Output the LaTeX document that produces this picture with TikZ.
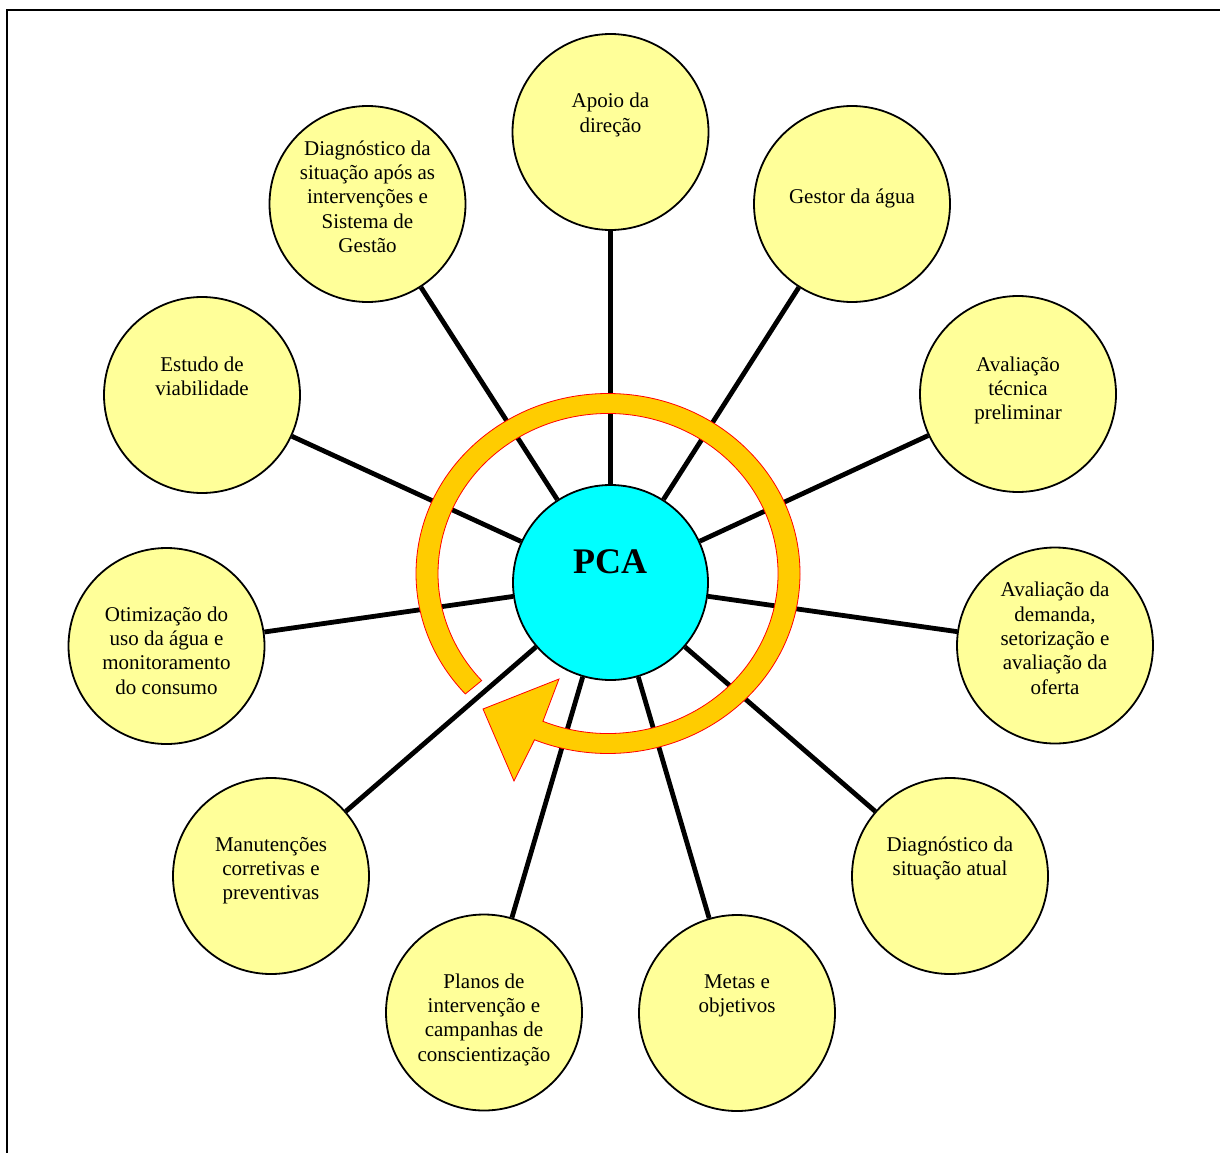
\documentclass[tikz,border=0pt]{standalone}
\usepackage{fontspec}
\setmainfont{Liberation Serif}
\usetikzlibrary{calc}
\definecolor{bubblefill}{HTML}{FFFF99}
\definecolor{hubfill}{HTML}{00FFFF}
\definecolor{ringfill}{HTML}{FFCC00}
\definecolor{ringline}{HTML}{FF0000}
\begin{document}
\begin{tikzpicture}[x=1pt,y=-1pt,
  bubble/.style={circle, draw=black, line width=1.8pt, fill=bubblefill, minimum size=196pt, inner sep=0pt},
  hub/.style={circle, draw=black, line width=1.8pt, fill=hubfill, minimum size=195pt, inner sep=0pt},
  lbl/.style={align=center, anchor=base, font=\fontsize{21}{24.4}\selectfont, inner sep=0pt},
  spoke/.style={line width=4.8pt, draw=black},
  ring/.style={fill=ringfill, draw=ringline, line width=0.8pt, line join=miter}
]
\useasboundingbox (0,0) rectangle (1220,1153);
\draw[line width=2pt] (7,1160) -- (7,10) -- (1225,10);

% circles
\node[hub] (pca) at (610.5,582.5) {};
\node[bubble] (apoio) at (610.5,132) {};
\node[bubble] (gestor) at (852,204) {};
\node[bubble] (tecnica) at (1018,394) {};
\node[bubble] (demanda) at (1055,645.5) {};
\node[bubble] (atual) at (950,876) {};
\node[bubble] (metas) at (737,1013) {};
\node[bubble] (planos) at (484,1012.5) {};
\node[bubble] (manut) at (271,876) {};
\node[bubble] (otim) at (166.5,646) {};
\node[bubble] (estudo) at (202,395) {};
\node[bubble] (diagapos) at (367.5,204) {};

% spokes
\foreach \n in {apoio,gestor,tecnica,demanda,atual,metas,planos,manut,otim,estudo,diagapos}
  \draw[spoke] (pca) -- (\n);

% cycle arrow
\path[ring] ($(608,573.5)+(138:192 and 180)$) coordinate (r0)
  arc[start angle=138, end angle=472.5, x radius=192, y radius=180]
  -- (514,781) coordinate (barbout)
  -- (483,709) coordinate (tip)
  -- (559,679) coordinate (barbin)
  -- ($(608,573.5)+(472.5:170 and 160)$)
  arc[start angle=472.5, end angle=138, x radius=170, y radius=160]
  -- cycle;

% labels (anchor = baseline of last line)
\node[font=\fontsize{36}{40}\selectfont\bfseries, anchor=base, inner sep=0pt] (pcat) at (610,573) {PCA};
\node[lbl] (tapoio) at (610.5,132.4) {Apoio da\\direção};
\node[lbl] (tgestor) at (852,203) {Gestor da água};
\node[lbl] (ttecnica) at (1018,419.8) {Avaliação\\técnica\\preliminar};
\node[lbl] (tdemanda) at (1055,694.2) {Avaliação da\\demanda,\\setorização e\\avaliação da\\oferta};
\node[lbl] (tatual) at (950,875.4) {Diagnóstico da\\situação atual};
\node[lbl] (tmetas) at (737,1012.4) {Metas e\\objetivos};
\node[lbl] (tplanos) at (484,1061.2) {Planos de\\intervenção e\\campanhas de\\conscientização};
\node[lbl] (tmanut) at (271,899.8) {Manutenções\\corretivas e\\preventivas};
\node[lbl] (totim) at (166.5,694.2) {Otimização do\\uso da água e\\monitoramento\\do consumo};
\node[lbl] (testudo) at (202,395.4) {Estudo de\\viabilidade};
\node[lbl] (tdiagapos) at (367.5,252.6) {Diagnóstico da\\situação após as\\intervenções e\\Sistema de\\Gestão};
\end{tikzpicture}
\end{document}
